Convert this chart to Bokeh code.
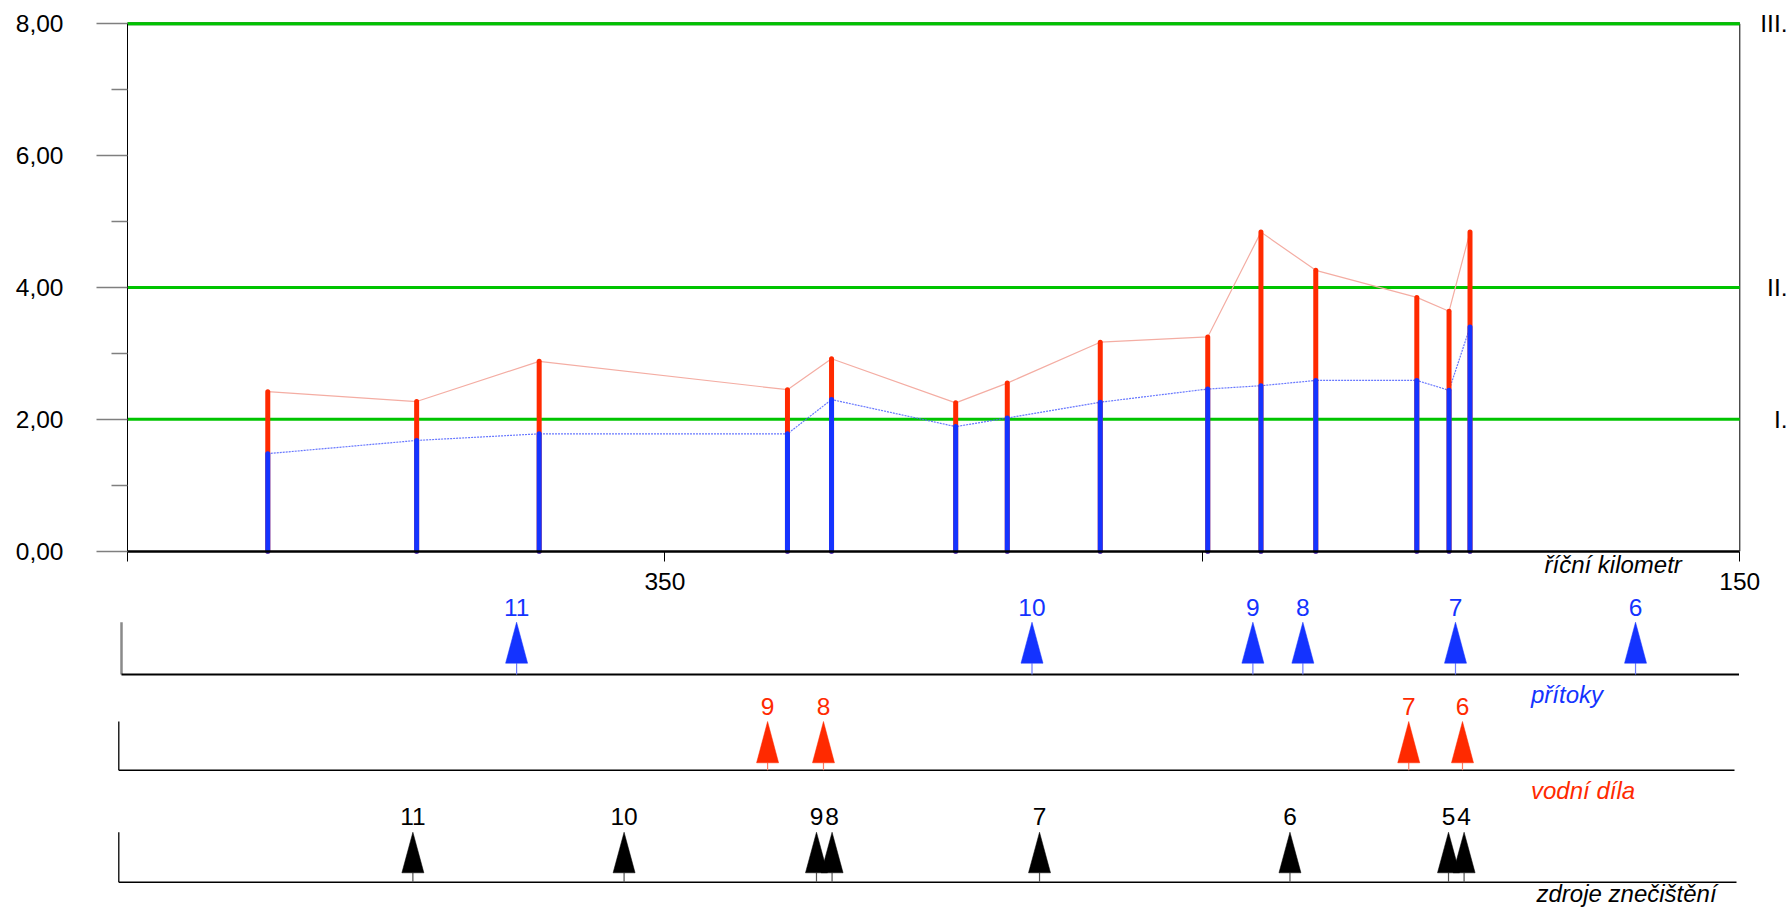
from bokeh.plotting import figure
from bokeh.models import Range1d, FixedTicker, CustomJSTickFormatter, LinearAxis
from bokeh.embed import file_html
from bokeh.resources import INLINE
from bokeh.core.properties import value

# ---------------- data ----------------
station_km = [423.9, 396.2, 373.4, 327.2, 319.0, 295.9, 286.3, 269.0, 249.0, 239.1, 228.9, 210.1, 204.1, 200.2]
max_vals   = [2.42, 2.27, 2.88, 2.45, 2.92, 2.25, 2.55, 3.17, 3.25, 4.84, 4.26, 3.85, 3.64, 4.84]
mean_vals  = [1.48, 1.68, 1.78, 1.78, 2.30, 1.89, 2.02, 2.26, 2.46, 2.51, 2.59, 2.59, 2.44, 3.40]

class_limits = [2, 4, 8]
class_labels = ["I.", "II.", "III."]

y_ticks = [0, 2, 4, 6, 8]
y_minor = [1, 3, 5, 7]
km_ticks = [450, 350, 250, 150]
km_tick_labels = ["", "350", "", "150"]

tributary_km = [377.6, 281.7, 240.6, 231.3, 202.9, 169.4]
tributary_ids = ["11", "10", "9", "8", "7", "6"]
works_km = [330.9, 320.5, 211.6, 201.6]
works_ids = ["9", "8", "7", "6"]
pollution_km = [396.9, 357.6, 321.8, 318.9, 280.3, 233.7, 204.2, 201.3]
pollution_ids = ["11", "10", "9", "8", "7", "6", "5", "4"]

# ---------------- style / layout ----------------
FONT = "Liberation Sans"
FS = "24.5px"
FS_I = "24px"
RED = "#FF2A00"
BLUE = "#1433FF"
GREEN = "#00C400"

W, H = 1791, 907
KM_L, KM_R = 450, 150
Y_MIN, Y_MAX = 0, 8
FRAME_LEFT_PX, FRAME_RIGHT_PX = 127.0, 1739.3   # where the km axis starts / ends
FRAME_TOP_PX, FRAME_BOT_PX = 23.3, 550.7        # where value 8 / 0 lie
ppk = (FRAME_RIGHT_PX - FRAME_LEFT_PX) / (KM_L - KM_R)
ppu = (FRAME_BOT_PX - FRAME_TOP_PX) / (Y_MAX - Y_MIN)


def kx(px):
    return KM_L - (px - FRAME_LEFT_PX) / ppk


def vy(py):
    return (FRAME_BOT_PX - py) / ppu


p = figure(width=W, height=H, output_backend="svg", toolbar_location=None,
           x_range=Range1d(kx(0), kx(W)), y_range=Range1d(vy(H), vy(0)),
           x_axis_location=None, y_axis_location=None,
           min_border=0, min_border_left=0, min_border_right=0, min_border_top=0, min_border_bottom=0,
           background_fill_color="white", border_fill_color="white")
p.extra_y_ranges = {"px": Range1d(H, 0)}
p.xgrid.visible = False
p.ygrid.visible = False
p.outline_line_color = None

# ---- value axis ----
ya = LinearAxis(fixed_location=KM_L, bounds=(Y_MIN, Y_MAX),
                ticker=FixedTicker(ticks=y_ticks, minor_ticks=y_minor),
                formatter=CustomJSTickFormatter(code="return tick.toFixed(2).replace('.', ',');"))
ya.major_tick_out = 31
ya.major_tick_in = 0
ya.minor_tick_out = 16
ya.minor_tick_in = 0
ya.major_tick_line_color = "#7f7f7f"
ya.minor_tick_line_color = "#7f7f7f"
ya.major_tick_line_width = 1.5
ya.minor_tick_line_width = 1.5
ya.axis_line_color = "black"
ya.axis_line_width = 1
ya.major_label_standoff = 33
ya.major_label_text_font = FONT
ya.major_label_text_font_size = FS
ya.major_label_text_color = "black"
p.add_layout(ya, "left")

# ---- river km axis ----
xa = LinearAxis(fixed_location=Y_MIN, bounds=(KM_R, KM_L),
                ticker=FixedTicker(ticks=km_ticks, minor_ticks=[]))
xa.major_label_overrides = {k: t for k, t in zip(km_ticks, km_tick_labels)}
xa.major_tick_out = 10
xa.major_tick_in = 0
xa.minor_tick_out = 0
xa.minor_tick_in = 0
xa.major_tick_line_color = "black"
xa.axis_line_width = 2.5
xa.axis_line_color = "black"
xa.major_label_standoff = 12
xa.major_label_text_font = FONT
xa.major_label_text_font_size = FS
xa.major_label_text_color = "black"
p.add_layout(xa, "below")

# frame right and top edges
p.segment(x0=[KM_R], y0=[Y_MIN], x1=[KM_R], y1=[Y_MAX], line_color="black", line_width=1)
p.segment(x0=[KM_L], y0=[Y_MAX], x1=[KM_R], y1=[Y_MAX], line_color="#0a5a0a", line_width=3)

# class limits
n = len(class_limits)
p.segment(x0=[KM_L] * n, y0=class_limits, x1=[KM_R] * n, y1=class_limits,
          line_color=GREEN, line_width=3 if True else 0)
p.text(x=[kx(1787)] * n, y=class_limits, text=class_labels, text_align="right",
       text_baseline="middle", text_font=value(FONT), text_font_size=value(FS), text_color="black")

# profile lines and bars
p.line(station_km, max_vals, line_color="#F4ADA3", line_width=1.2)
p.line(station_km, mean_vals, line_color="#4E60FF", line_width=1.2, line_dash="2 1", line_alpha=0.85)
m = len(station_km)
p.segment(x0=station_km, y0=[0] * m, x1=station_km, y1=max_vals,
          line_color=RED, line_width=5, line_cap="round")
p.segment(x0=station_km, y0=[0] * m, x1=station_km, y1=mean_vals,
          line_color=BLUE, line_width=5, line_cap="round")

p.text(x=[kx(1544)], y=[vy(563.5)], text=["říční kilometr"], text_align="left",
       text_baseline="middle", text_font=value(FONT), text_font_size=value(FS_I),
       text_font_style="italic", text_color="black")

# ---------------- strips ----------------
strips = [
    dict(km=tributary_km, ids=tributary_ids, col=BLUE, stem="#6b7bff", lx=121, rx=1738.5,
         tip=621.7, base=662.7, bl=674, ly=606.7, name="přítoky", nx=1530.5, ny=694,
         vcol="#8a8a8a", vw=2.5, bw=2.2),
    dict(km=works_km, ids=works_ids, col=RED, stem="#ff7a60", lx=118.3, rx=1734,
         tip=721, base=762.3, bl=769.7, ly=706, name="vodní díla", nx=1530.5, ny=790,
         vcol="black", vw=1.3, bw=1.6),
    dict(km=pollution_km, ids=pollution_ids, col="black", stem="#555555", lx=118.3, rx=1736,
         tip=831.7, base=872.3, bl=881.7, ly=816, name="zdroje znečištění", nx=1536, ny=893,
         vcol="black", vw=1.3, bw=1.6),
]

hw = 11.0 / ppk
for s in strips:
    k = s["km"]
    c = len(k)
    p.segment(x0=[kx(s["lx"])], y0=[s["tip"]], x1=[kx(s["lx"])], y1=[s["bl"]],
              line_color=s["vcol"], line_width=s["vw"], y_range_name="px")
    p.segment(x0=[kx(s["lx"])], y0=[s["bl"]], x1=[kx(s["rx"])], y1=[s["bl"]],
              line_color="black", line_width=s["bw"], y_range_name="px")
    p.segment(x0=k, y0=[s["base"]] * c, x1=k, y1=[s["bl"]] * c,
              line_color=s["stem"], line_width=1.2, y_range_name="px")
    xs = [[v - hw, v + hw, v] for v in k]
    ys = [[s["base"], s["base"], s["tip"]] for _ in k]
    p.patches(xs, ys, fill_color=s["col"], line_color=s["col"], line_width=0.5, y_range_name="px")
    p.text(x=k, y=[s["ly"]] * c, text=s["ids"], text_align="center",
           text_baseline="middle", text_font=value(FONT), text_font_size=value(FS),
           text_color=s["col"], y_range_name="px")
    p.text(x=[kx(s["nx"])], y=[s["ny"]], text=[s["name"]], text_align="left",
           text_baseline="middle", text_font=value(FONT), text_font_size=value(FS_I),
           text_font_style="italic", text_color=s["col"], y_range_name="px")

open("out.html", "w", encoding="utf-8").write(file_html(p, INLINE, title="Profil"))
